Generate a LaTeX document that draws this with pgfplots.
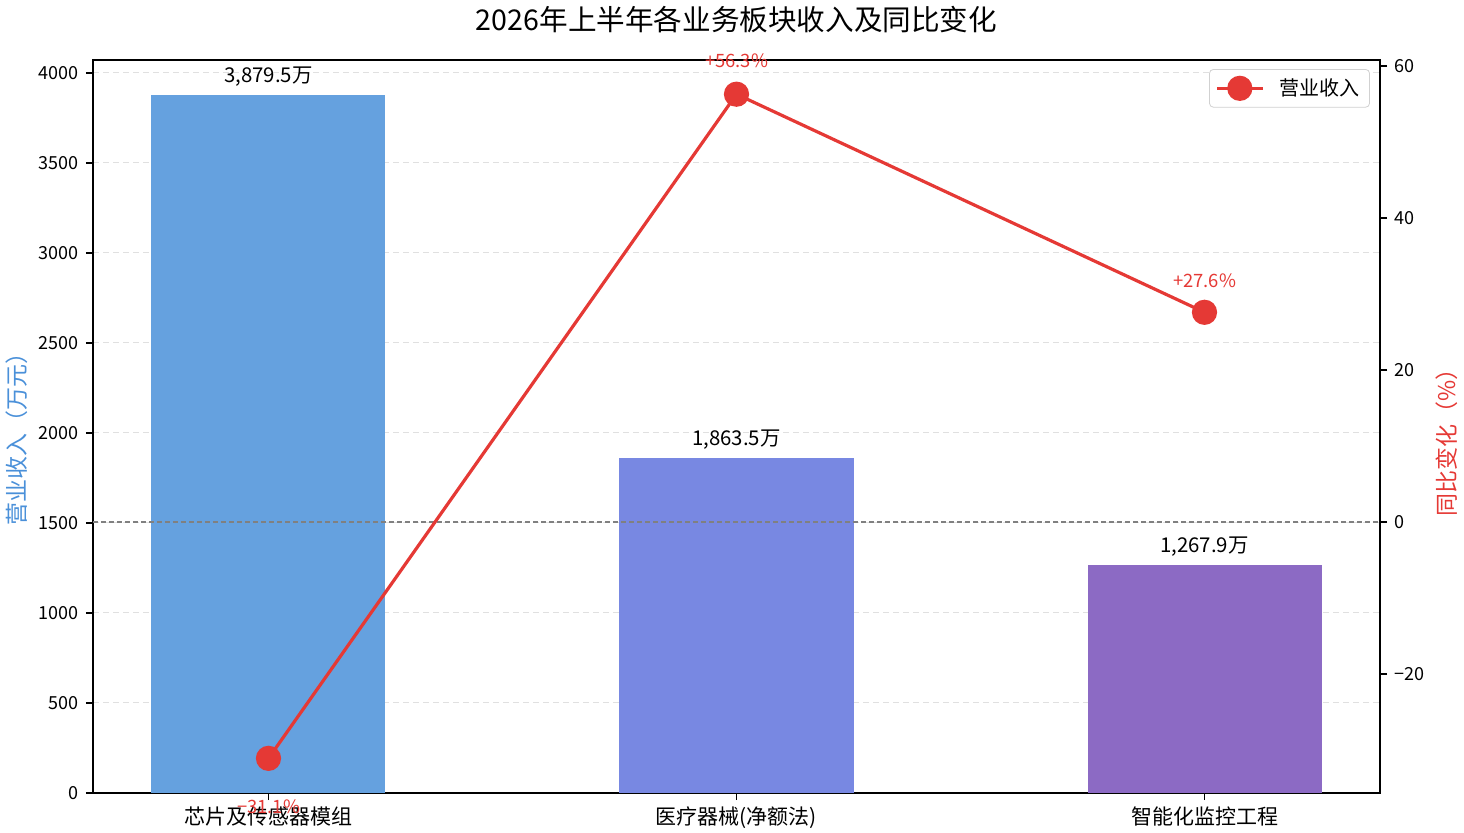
\documentclass[border=0pt]{standalone}
\usepackage{fontspec}
\setmainfont{Noto Sans CJK SC}
\usepackage{pgfplots}
\usepackage{pgfplotstable}
\pgfplotsset{compat=1.18}
\definecolor{barA}{RGB}{101,161,223}
\definecolor{barB}{RGB}{120,136,226}
\definecolor{barC}{RGB}{140,106,196}
\definecolor{lineR}{RGB}{229,57,53}
\definecolor{ylblue}{RGB}{74,144,217}
\pgfplotstableread{
x y
0 -31.1
1 56.3
2 27.6
}\linedata
\begin{document}
\begin{tikzpicture}
\useasboundingbox (-46.5pt,-19.5pt) rectangle (685.5pt,396.5pt);
\pgfplotsset{barlab/.style={ybar, bar width=0.5, bar shift=0pt, draw=none,
  nodes near coords={\pgfmathprintnumber[fixed,fixed zerofill,precision=1,1000 sep={,}]{\pgfplotspointmeta}万},
  nodes near coords style={anchor=center, yshift=9pt, text=black, font=\fontsize{10.2}{12}\selectfont}},
  pctlab/.style={draw=none, mark=none, forget plot, point meta=explicit symbolic,
  nodes near coords={\pgfplotspointmeta\%},
  nodes near coords style={anchor=center, yshift=#1, text=lineR, font=\fontsize{9.2}{11}\selectfont}}}
\begin{axis}[
  at={(0,0)}, anchor=south west,
  scale only axis, width=643.5pt, height=366.5pt,
  xmin=-0.375, xmax=2.375, ymin=0, ymax=4072,
  xtick={0,1,2}, xticklabels={芯片及传感器模组,医疗器械(净额法),智能化监控工程},
  ytick={0,500,...,4000},
  xtick pos=bottom, ytick pos=left, tick align=outside,
  major tick length=3.5pt,
  tick style={black, line width=0.6pt},
  axis line style={line width=0.8pt},
  ymajorgrids, grid style={color=black!12, line width=0.5pt, dash pattern=on 3pt off 2pt},
  /pgf/number format/assume math mode=true,
  /pgf/number format/1000 sep={},
  yticklabel style={font=\fontsize{9}{11}\selectfont},
  xticklabel style={font=\fontsize{10.5}{12}\selectfont},
  title={2026年上半年各业务板块收入及同比变化},
  title style={at={(axis description cs:0.5,1)}, anchor=center, yshift=14pt, font=\fontsize{14.3}{16}\selectfont},
  ylabel={营业收入（万元）},
  ylabel style={at={(axis description cs:0,0.491)}, anchor=center, yshift=38pt, text=ylblue, font=\fontsize{11.5}{13}\selectfont},
]
\addplot[barlab, fill=barA] coordinates {(0,3879.5)};
\addplot[barlab, fill=barB] coordinates {(1,1863.5)};
\addplot[barlab, fill=barC] coordinates {(2,1267.9)};
\end{axis}
\begin{axis}[
  at={(0,0)}, anchor=south west,
  scale only axis, width=643.5pt, height=366.5pt,
  xmin=-0.375, xmax=2.375, ymin=-35.66, ymax=60.8,
  axis x line=none, axis y line*=right,
  ytick={-20,0,20,40,60}, yticklabels={−20,0,20,40,60},
  tick align=outside, major tick length=3.5pt,
  tick style={black, line width=0.6pt},
  axis line style={line width=0.8pt},
  yticklabel style={font=\fontsize{9}{11}\selectfont},
  ylabel={同比变化（\%）},
  ylabel style={at={(axis description cs:1,0.486)}, anchor=center, yshift=-33.5pt, text=lineR, font=\fontsize{11.5}{13}\selectfont},
  clip=false,
  legend style={at={(0.9922,0.9877)}, anchor=north east, draw=black!18, rounded corners=2pt,
    font=\fontsize{10}{12}\selectfont, inner xsep=3pt, inner ysep=2.5pt},
  legend cell align=left,
  legend image code/.code={\draw[mark repeat=2,mark phase=2,#1] plot coordinates {(0cm,0cm) (0.4cm,0cm) (0.8cm,0cm)}; \path (1.0cm,0cm);},
]
\draw[gray, line width=0.6pt, dash pattern=on 2.5pt off 1.5pt] (axis cs:-0.375,0) -- (axis cs:2.375,0);
\addplot[lineR, line width=1.6pt, mark=*, mark size=5.5pt, mark options={solid, fill=lineR, draw=lineR}]
  table[x=x, y=y] {\linedata};
\addlegendentry{营业收入}
\addplot[pctlab=-24pt] coordinates {(0,-31.1) [−31.1]};
\addplot[pctlab=16.5pt] coordinates {(1,56.3) [+56.3]};
\addplot[pctlab=16pt] coordinates {(2,27.6) [+27.6]};
\end{axis}
\end{tikzpicture}
\end{document}
